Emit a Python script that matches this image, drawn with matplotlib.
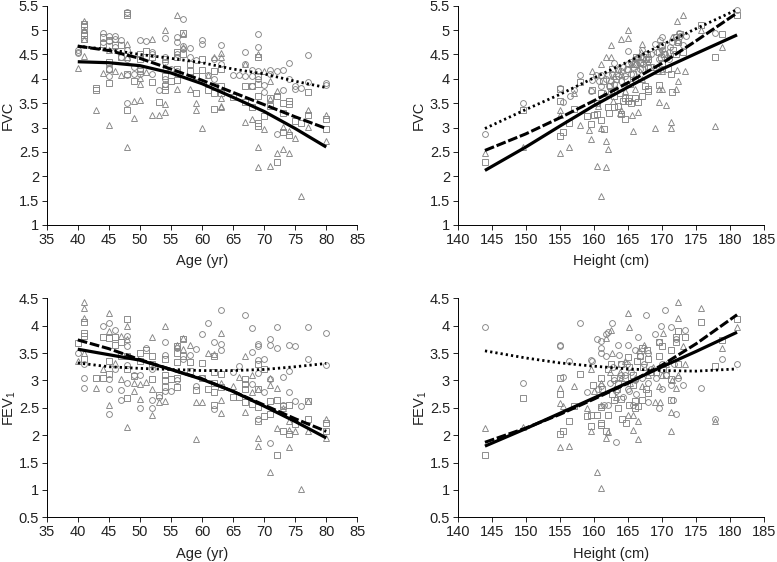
import numpy as np
import matplotlib
matplotlib.use("Agg")
import matplotlib.pyplot as plt

plt.rcParams['font.family'] = ['Liberation Sans', 'DejaVu Sans']
plt.rcParams['mathtext.default'] = 'regular'

# FVC vs age (age, value)
fvc_age_circles = [(40,4.6),(40,4.55),(40,4.52),(44,4.93),(44,4.75),(45,4.88),(45,4.78),(45,4.2),(45,4.05),(46,4.88),(46,4.82),(46,4.65),
    (47,4.8),(47,4.45),(48,5.38),(48,4.6),(48,4.4),(48,4.08),(48,3.5),(49,4.25),(49,4.1),(50,4.8),(50,4.2),(50,4.1),(51,4.77),(52,4.55),(52,4.5),(52,4.1),
    (53,3.78),(54,4.83),(54,4.45),(54,4.35),(54,4.0),(54,3.9),(55,4.2),(56,4.85),(56,4.75),(56,4.5),(56,4.15),(56,4.1),(57,5.22),(57,4.68),(57,4.62),
    (58,4.63),(58,4.45),(59,4.38),(60,4.8),(60,4.72),(61,4.08),(62,4.4),(62,4.0),(63,4.7),(63,4.3),(65,4.08),(66,4.07),(67,4.56),(67,4.3),(67,4.05),
    (68,4.18),(68,4.05),(68,3.85),(69,4.92),(69,4.66),(69,4.15),(69,4.0),(70,3.88),(70,3.73),(71,4.18),(71,4.1),(72,4.15),(72,2.87),(73,4.18),(73,3.77),
    (74,4.33),(74,4.0),(75,3.85),(75,3.8),(76,3.81),(77,4.49),(77,3.93),(80,3.92),(80,3.88)]
fvc_age_squares = [(41,5.13),(41,5.08),(41,4.95),(41,4.9),(41,4.82),(43,3.82),(43,3.78),(44,4.85),(44,4.72),(45,4.8),(45,4.35),(45,4.2),(45,3.92),
    (46,4.7),(47,4.7),(47,4.45),(48,5.35),(48,5.3),(48,4.1),(48,3.37),(49,3.95),(50,4.5),(50,4.4),(50,4.15),(51,4.58),(52,4.45),(52,3.93),(53,3.53),
    (54,4.4),(54,4.05),(54,3.85),(54,3.78),(55,3.95),(56,4.55),(56,4.45),(56,4.2),(56,3.98),(57,4.93),(57,4.5),(58,4.3),(58,4.15),(59,3.7),(59,4.05),
    (60,4.4),(60,4.18),(61,3.77),(62,4.15),(62,3.85),(62,3.7),(62,3.38),(63,4.2),(63,3.85),(63,3.7),(65,3.62),(67,3.85),(67,3.53),(68,3.42),(68,3.85),
    (69,4.45),(69,4.05),(69,3.9),(69,3.65),(69,3.1),(69,3.03),(70,3.23),(71,3.6),(71,3.45),(72,3.65),(72,2.3),(73,3.5),(73,3.3),(73,2.9),(74,3.55),
    (74,3.48),(74,2.85),(75,3.13),(76,3.1),(77,3.72),(77,3.25),(80,3.17),(80,2.97)]
fvc_age_triangles = [(40,4.22),(41,5.18),(41,5.0),(41,4.82),(41,4.47),(43,3.37),(44,4.12),(45,3.06),(45,4.6),(46,4.15),(47,4.08),(48,4.72),(48,4.45),
    (48,2.6),(49,3.55),(49,3.2),(50,3.57),(50,3.9),(50,4.02),(51,4.13),(52,4.82),(52,3.25),(53,3.25),(54,5.0),(54,4.25),(54,3.48),(54,3.32),(56,5.3),
    (56,3.8),(57,4.65),(57,4.92),(58,3.8),(59,3.5),(59,3.37),(60,3.0),(61,4.08),(62,4.45),(63,4.53),(63,4.45),(63,3.6),(63,3.45),(63,3.42),(67,3.12),
    (67,4.3),(68,3.18),(69,4.5),(69,2.6),(69,2.2),(70,2.97),(70,4.15),(71,3.95),(71,3.58),(71,2.22),(72,3.75),(72,2.47),(73,3.02),(73,2.55),(74,2.92),
    (74,2.48),(75,2.78),(76,1.6),(77,3.35),(77,3.02),(80,3.26),(80,2.73)]

# FVC vs height (height, value)
fvc_height_circles = [(144,2.87),(149.6,3.5),(155,3.82),(155.5,3.52),(156.5,3.65),(157,3.78),(158,4.07),(159.5,3.75),(159.7,3.98),(160.3,4.08),
    (161,4.08),(161,3.85),(162,4.08),(162.5,3.95),(163,4.33),(163.5,4.2),(164,4.15),(164.5,4.05),(165,4.57),(165,4.3),(165.5,4.1),(166,4.4),(166.5,4.45),
    (167,4.6),(167,4.35),(167.5,4.5),(168,4.25),(169,4.72),(169.5,4.4),(169.7,4.8),(170,4.85),(170,4.6),(171,4.55),(171.5,4.75),(172,4.85),(172.5,4.95),
    (173,4.7),(173.5,4.88),(177.8,4.93),(181,5.42),(163,3.9),(166,4.0),(168,4.45),(170,4.2),(171,4.4),
    (160.8,3.95),(161.8,4.0),(162.6,4.1),(163.6,4.05),(164.2,4.25),(164.8,4.2),(165.4,4.35),(165.8,4.25),(166.2,4.3),(166.8,4.2),(167.2,4.3),(167.6,4.4),
    (168.4,4.5),(169.2,4.55),(169.8,4.65),(170.4,4.5),(171.2,4.65),(172.2,4.75),(172.6,4.88),(166.4,4.15),(164,3.95),(162.2,3.85)]
fvc_height_squares = [(144,2.3),(149.6,3.37),(155,3.8),(155,3.55),(155,2.83),(155.5,2.9),(156.3,3.1),(157,3.38),(158,3.93),(159,3.23),(159.5,3.08),
    (159.7,3.78),(160,3.25),(160.5,3.27),(161,3.7),(161,3.15),(161.5,2.98),(162,3.42),(162.2,3.3),(162.5,3.75),(162.6,4.2),(163,3.43),(163.5,3.45),
    (164,3.27),(164.5,3.17),(164.5,3.6),(165,3.55),(165.5,3.5),(166,3.6),(166.5,3.52),(167,3.65),(167,4.2),(167.5,3.85),(168,3.8),(168,3.75),(169.5,3.88),
    (170,4.3),(171.3,4.1),(171.4,3.72),(172,4.5),(172,4.85),(173,4.55),(175.7,5.1),(177.8,4.44),(178.8,4.92),(181,5.3),(166,4.3),(168,4.4),(165,4.2),
    (169.5,4.55),(170,4.7),
    (161.3,3.95),(162.3,3.85),(163.3,4.0),(163.8,3.7),(164.3,3.55),(164.8,4.0),(165.3,3.9),(165.8,4.1),(166.2,4.45),(166.7,4.35),(167.2,4.45),(167.8,4.5),
    (168.2,4.25),(169.8,4.45),(170.3,4.5),(170.8,4.2),(171.6,4.6),(172.4,4.75),(172.6,4.92),(165.2,3.6),(163,3.65),(160.5,3.5)]
fvc_height_triangles = [(144,2.47),(149.6,2.6),(155,3.37),(155,3.25),(155,2.48),(156.3,2.6),(157,3.7),(158,3.05),(159.2,2.95),(159.6,2.77),(159.7,4.15),
    (160.4,2.22),(161,4.3),(161,3.0),(161.7,2.2),(161.7,2.72),(162,2.55),(161.8,4.45),(162.5,4.7),(162.5,4.45),(161.1,1.6),(164,3.35),(164,4.82),(165,5.0),
    (165,4.83),(165.7,2.92),(165.6,3.25),(166,3.8),(166.5,3.32),(167,4.72),(169,3.0),(169.5,3.8),(169.6,3.53),(170,3.8),(170.5,3.47),(171.3,3.12),(171.3,3.0),
    (172,3.8),(172.3,3.95),(172.2,5.18),(172.2,4.18),(173.1,5.3),(173.4,4.17),(177.8,3.03),(178.8,4.65),(175.7,5.0),(170,4.15),(166,4.3),(167,4.0),(164,4.1),
    (163,4.05),(165,3.9),
    (161.6,3.7),(163.6,4.2),(164.6,3.75),(165.4,4.3),(166.3,4.45),(166.9,4.55),(167.4,4.4),(168,4.35),(168.8,4.25),(169.4,4.15),(170.6,4.45),(171.4,4.85),
    (172.4,4.8),(160.6,3.45),(162.8,3.55),(163.8,3.3)]

# FEV1 vs age
fev_age_circles = [(40,3.5),(41,3.3),(41,3.05),(41,2.87),(44,4.0),(45,4.05),(45,3.02),(45,2.85),(45,2.38),(46,3.93),(46,3.2),(47,2.82),(47,2.65),(48,3.82),
    (48,3.62),(48,2.96),(48,3.28),(49,3.1),(50,3.1),(50,2.5),(51,3.6),(52,2.65),(52,2.5),(52,3.2),(53,2.7),(54,3.7),(54,3.47),(54,2.8),(55,2.8),(56,3.6),
    (56,3.0),(57,3.4),(58,3.47),(59,3.57),(59,2.9),(60,3.85),(60,3.05),(61,4.04),(62,3.7),(62,2.47),(63,4.28),(63,3.66),(63,3.55),(65,3.15),(66,3.27),(67,4.2),
    (68,3.95),(68,3.52),(68,2.93),(69,3.67),(69,3.62),(69,3.37),(69,3.13),(69,2.3),(70,3.39),(70,2.78),(71,3.75),(71,3.65),(71,3.03),(71,1.86),(72,3.97),
    (72,3.6),(73,3.07),(73,2.55),(74,3.65),(74,3.17),(74,2.78),(75,3.62),(75,2.63),(76,2.53),(77,3.97),(77,3.4),(80,3.86),(80,3.28)]
fev_age_squares = [(40,3.68),(41,4.07),(41,3.87),(41,3.82),(41,3.4),(43,3.05),(44,3.8),(44,3.05),(45,3.77),(45,3.35),(45,3.12),(46,3.8),(46,3.65),(47,3.7),
    (47,3.45),(48,4.13),(48,3.45),(48,3.2),(48,2.67),(49,3.08),(50,3.5),(50,3.35),(51,3.55),(52,3.45),(52,3.3),(52,3.03),(53,2.73),(54,3.4),(54,3.1),(54,3.0),
    (54,2.88),(55,3.03),(56,3.62),(56,3.5),(56,3.33),(56,3.05),(56,2.88),(57,3.75),(57,3.45),(58,3.33),(58,3.18),(59,2.82),(60,3.32),(60,3.05),(61,2.84),
    (62,3.45),(62,3.15),(62,2.95),(62,2.78),(62,2.55),(63,3.12),(63,2.88),(65,2.7),(66,2.7),(67,3.03),(67,2.93),(67,2.85),(67,2.6),(68,2.57),(69,3.3),(69,2.85),
    (69,2.52),(69,2.25),(70,3.2),(70,2.35),(71,2.62),(71,2.38),(72,2.64),(72,1.63),(73,2.53),(73,2.07),(74,2.55),(74,2.03),(75,2.2),(77,2.63),(77,2.3),
    (80,2.22),(80,2.07)]
fev_age_triangles = [(40,3.35),(41,4.43),(41,4.32),(41,4.14),(41,3.5),(43,2.87),(44,3.2),(45,4.24),(45,3.9),(45,2.55),(46,3.32),(47,3.82),(47,3.02),(48,4.0),
    (48,3.75),(48,2.15),(49,2.8),(49,2.95),(50,2.66),(50,2.93),(51,2.98),(52,3.8),(52,2.85),(52,2.36),(53,2.6),(54,4.0),(54,2.63),(56,3.65),(57,3.78),(57,3.58),
    (58,3.64),(59,2.6),(59,1.93),(60,2.6),(61,3.51),(62,3.48),(63,3.87),(63,2.95),(63,2.65),(63,2.41),(65,2.9),(66,3.06),(67,3.44),(67,2.43),(68,3.1),(68,2.78),
    (69,2.85),(69,1.95),(69,1.8),(71,3.05),(71,2.92),(71,1.32),(72,2.87),(72,2.14),(73,2.5),(74,2.26),(74,2.1),(74,1.78),(75,2.08),(76,1.01),(77,2.63),(77,2.07),
    (80,2.3),(80,1.95)]

# FEV1 vs height
fev_height_circles = [(144,3.98),(149.6,2.96),(155,3.65),(155,3.62),(155.5,3.07),(156.3,3.36),(158,4.04),(159,2.78),(159.6,3.38),(159.7,3.35),(160.4,3.75),
    (161,3.72),(161,3.6),(161,3.5),(161.7,3.85),(161.7,3.45),(162,3.88),(162.6,4.04),(162,2.55),(163.3,1.87),(163.6,3.65),(163.7,3.47),(164,3.3),(165,3.65),
    (165,2.85),(165.2,2.8),(166,3.55),(166.5,3.8),(167,3.05),(167.6,4.19),(168,2.6),(169,3.85),(169.5,3.7),(169.6,2.5),(169.8,4.0),(170,2.85),(170.4,4.28),
    (171.3,3.97),(171.3,2.92),(171.6,2.65),(172,2.38),(172,3.75),(172.3,3.05),(173,2.92),(173.4,3.93),(175.7,2.87),(177.8,2.3),(178.8,3.4),(181,3.3),(166,3.0),
    (168,3.5),(163,3.0),(170,3.3),(164.5,3.1),(161,2.9),
    (160.6,2.85),(161.5,2.55),(162.4,2.95),(163.2,2.8),(163.9,3.1),(164.3,2.7),(164.9,3.3),(165.5,3.15),(166.2,2.75),(166.8,3.45),(167.3,3.3),(168.4,3.2),
    (169.1,3.05),(170.6,3.1),(171.8,3.3),(162.8,3.25),(165.8,2.55),(167.9,2.95)]
fev_height_squares = [(144,1.63),(149.6,2.67),(155,3.05),(155,2.75),(155,2.02),(155.5,2.07),(156.4,2.25),(157,2.53),(158,3.12),(159,2.35),(159.6,2.37),(159.6,2.17),
    (159.8,2.92),(160.4,2.37),(161,2.52),(161,2.23),(161,2.18),(161,3.05),(161.8,2.08),(162,2.37),(162.5,3.3),(162.7,2.75),(163,2.65),(163.5,2.5),(164,2.66),
    (164.1,2.3),(164.7,2.22),(165,3.43),(165.1,2.55),(165.7,2.92),(166,2.62),(166,2.5),(166.4,2.53),(167,3.6),(167,2.65),(167.6,2.85),(168,3.4),(168,2.77),
    (169.5,3.7),(169.5,3.45),(170,3.63),(171.3,3.55),(171.3,3.03),(171.3,2.65),(172,3.8),(172.3,3.9),(172.3,3.3),(173.4,3.8),(175.7,4.07),(177.8,3.27),(178.8,3.73),
    (181,4.12),
    (161.2,2.85),(162.1,3.2),(162.9,3.05),(163.4,2.85),(164,3.3),(164.6,3.05),(165.2,3.25),(165.8,3.1),(166.3,3.35),(166.7,3.45),(167.2,3.25),(167.8,3.55),
    (168.3,3.15),(169.1,3.15),(170.2,3.2),(170.6,3.1),(172,3.7),(163.6,2.95)]
fev_height_triangles = [(144,2.14),(149.6,2.15),(155,2.87),(155,2.58),(155,1.78),(155.4,2.53),(156.4,1.8),(157,2.9),(159,2.5),(159.6,3.2),(159.6,2.07),(160,2.8),
    (160.4,1.32),(161,1.03),(161,2.55),(161.8,3.78),(161.8,1.95),(162,2.05),(162.5,3.92),(162.7,3.5),(164,3.05),(165,4.24),(165.1,3.98),(165,2.37),(165.7,2.1),
    (165.7,2.37),(166.4,1.93),(166.5,2.26),(167,2.9),(169,2.6),(169.5,2.9),(169.7,2.6),(170.2,3.87),(171.3,2.42),(171.3,2.07),(172,2.86),(172.3,4.43),(172.3,4.14),
    (173,3.63),(173.4,3.3),(175.7,4.32),(177.8,2.25),(178.8,3.6),(181,3.98),(168,3.1),(170,3.1),
    (161,2.95),(162.3,3.15),(163.2,2.7),(163.8,3.15),(164.5,3.35),(165.3,2.95),(166,3.05),(166.6,3.55),(167.3,3.65),(168.6,3.25),(170.6,3.3),(171.5,3.0),(172.4,3.1)]

# fitted lines
age_x = [40, 45, 50, 55, 60, 65, 70, 75, 80]
fvc_age_solid = [4.35, 4.33, 4.27, 4.12, 3.9, 3.62, 3.33, 2.98, 2.6]
fvc_age_dashed = [4.67, 4.58, 4.42, 4.2, 3.97, 3.72, 3.47, 3.22, 2.98]
fvc_age_dotted = [4.67, 4.6, 4.5, 4.42, 4.33, 4.2, 4.1, 3.95, 3.82]
fev_age_solid = [3.57, 3.47, 3.37, 3.2, 3.02, 2.8, 2.53, 2.25, 1.95]
fev_age_dashed = [3.74, 3.58, 3.38, 3.2, 3.03, 2.8, 2.55, 2.3, 2.07]
fev_age_dotted = [3.32, 3.25, 3.22, 3.2, 3.18, 3.18, 3.2, 3.25, 3.31]

height_x = [144, 150, 155, 160, 165, 170, 175, 181]
fvc_height_solid = [2.12, 2.6, 3.03, 3.45, 3.83, 4.2, 4.52, 4.9]
fvc_height_dashed = [2.53, 2.87, 3.2, 3.55, 3.92, 4.32, 4.78, 5.35]
fvc_height_dotted = [2.98, 3.37, 3.68, 4.02, 4.35, 4.7, 5.03, 5.42]
fev_height_solid = [1.8, 2.12, 2.4, 2.68, 2.96, 3.25, 3.53, 3.88]
fev_height_dashed = [1.87, 2.13, 2.38, 2.66, 2.95, 3.28, 3.67, 4.2]
fev_height_dotted = [3.54, 3.41, 3.32, 3.26, 3.21, 3.18, 3.17, 3.21]

age_ticks = [35, 40, 45, 50, 55, 60, 65, 70, 75, 80, 85]
height_ticks = [140, 145, 150, 155, 160, 165, 170, 175, 180, 185]
fvc_ticks = [1, 1.5, 2, 2.5, 3, 3.5, 4, 4.5, 5, 5.5]
fev_ticks = [0.5, 1, 1.5, 2, 2.5, 3, 3.5, 4, 4.5]

W, H = 777, 562
GRAY = '#858585'


def panel(box, pts, xs, lines, xticks, yticks, xlabel, ylabel, ypad):
    left, right, top, bottom = box
    ax = fig.add_axes([left / W, 1 - bottom / H, (right - left) / W, (bottom - top) / H])
    for data, m, ms in zip(pts, ['o', 's', '^'], [4.2, 4.2, 4.0]):
        x, y = np.array(data).T
        ax.plot(x, y, m, ms=ms, mfc='none', mec=GRAY, mew=0.65, clip_on=False)
    ax.plot(xs, lines[0], color='black', lw=2.3, ls='-', solid_capstyle='butt')
    ax.plot(xs, lines[1], color='black', lw=2.2, ls=(0, (3.2, 0.9)))
    ax.plot(xs, lines[2], color='black', lw=2.0, ls=(0, (0.8, 1.1)))
    ax.set_xlim(xticks[0], xticks[-1])
    ax.set_ylim(yticks[0], yticks[-1])
    ax.set_xticks(xticks)
    ax.set_yticks(yticks)
    ax.set_yticklabels(['%g' % t for t in yticks])
    ax.tick_params(labelsize=10.5, length=3.5, width=0.7, pad=2, colors='#222222')
    ax.spines['top'].set_visible(False)
    ax.spines['right'].set_visible(False)
    ax.spines['left'].set_linewidth(0.7)
    ax.spines['bottom'].set_linewidth(0.7)
    ax.set_xlabel(xlabel, fontsize=10.5, labelpad=5.5, color='#222222')
    ax.set_ylabel(ylabel, fontsize=10.5, labelpad=ypad, color='#222222')
    return ax


fig = plt.figure(figsize=(W / 100, H / 100), dpi=100)

panel((46.7, 357.3, 5.7, 225), [fvc_age_circles, fvc_age_squares, fvc_age_triangles], age_x,
      [fvc_age_solid, fvc_age_dashed, fvc_age_dotted], age_ticks, fvc_ticks, 'Age (yr)', 'FVC', 3)
panel((457.7, 764.3, 5.7, 225), [fvc_height_circles, fvc_height_squares, fvc_height_triangles], height_x,
      [fvc_height_solid, fvc_height_dashed, fvc_height_dotted], height_ticks, fvc_ticks, 'Height (cm)', 'FVC', 3)
panel((46.7, 357.3, 298.3, 517.3), [fev_age_circles, fev_age_squares, fev_age_triangles], age_x,
      [fev_age_solid, fev_age_dashed, fev_age_dotted], age_ticks, fev_ticks, 'Age (yr)', 'FEV$_1$', 0.5)
panel((457.7, 764.3, 298.3, 517.3), [fev_height_circles, fev_height_squares, fev_height_triangles], height_x,
      [fev_height_solid, fev_height_dashed, fev_height_dotted], height_ticks, fev_ticks, 'Height (cm)', 'FEV$_1$', 0.5)

fig.savefig('out.png', dpi=100)
